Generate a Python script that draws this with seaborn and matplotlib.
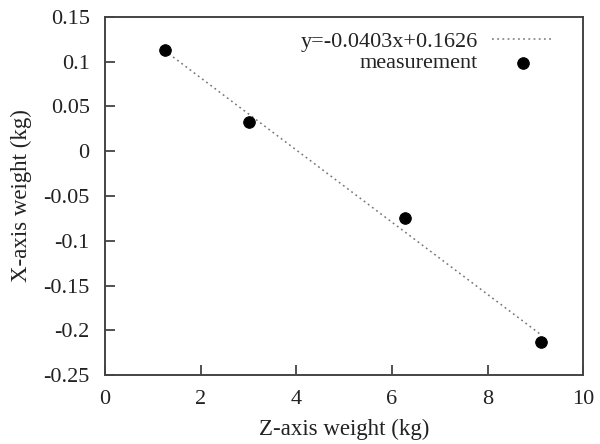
import numpy as np
import pandas as pd
import matplotlib.pyplot as plt
import seaborn as sns

z_weight = [1.25, 3.02, 6.28, 9.11]
x_weight = [0.113, 0.033, -0.075, -0.213]

slope = -0.0403
intercept = 0.1626
fit_label = 'y=-0.0403x+0.1626'

sns.set_style('ticks')
plt.rcParams['font.family'] = ['Liberation Serif', 'DejaVu Serif']
plt.rcParams['font.size'] = 16

df = pd.DataFrame({'z': z_weight, 'x': x_weight})
fit_df = pd.DataFrame({'z': [min(z_weight), max(z_weight)]})
fit_df['x'] = slope * fit_df['z'] + intercept

fig = plt.figure(figsize=(6, 4.44), dpi=100)
ax = fig.add_axes([0.175, 0.155, 0.797, 0.807])

sns.lineplot(data=fit_df, x='z', y='x', ax=ax, color='#777777',
             linestyle=(0, (1.2, 2.2)), linewidth=1.1, label=fit_label)
sns.scatterplot(data=df, x='z', y='x', ax=ax, color='black', s=70,
                edgecolor='black', zorder=3, label='measurement')

ax.set_xlim(0, 10)
ax.set_ylim(-0.25, 0.15)
ax.set_xticks([0, 2, 4, 6, 8, 10])
ax.set_yticks(np.arange(-0.25, 0.151, 0.05))
ax.set_yticklabels(['-0.25', '-0.2', '-0.15', '-0.1', '-0.05', '0', '0.05', '0.1', '0.15'])
ax.tick_params(direction='in', length=7, width=1.2, labelsize=16, pad=11,
               colors='#333333', labelcolor='#222222')
ax.tick_params(axis='x', pad=11)
for sp in ax.spines.values():
    sp.set_linewidth(1.4)
    sp.set_color('#444444')

ax.set_xlabel('Z-axis weight (kg)', fontsize=16.5, color='#222222', labelpad=7)
ax.set_ylabel('X-axis weight (kg)', fontsize=16.5, color='#222222', labelpad=8)

leg = ax.legend(loc='upper right', bbox_to_anchor=(0.957, 0.985), frameon=False,
                markerfirst=False, fontsize=16, handlelength=2.8,
                handletextpad=0.6, borderaxespad=0.0, labelspacing=0.05,
                markerscale=1.0)
for t in leg.get_texts():
    t.set_color('#222222')

fig.savefig('out.png', dpi=100)
